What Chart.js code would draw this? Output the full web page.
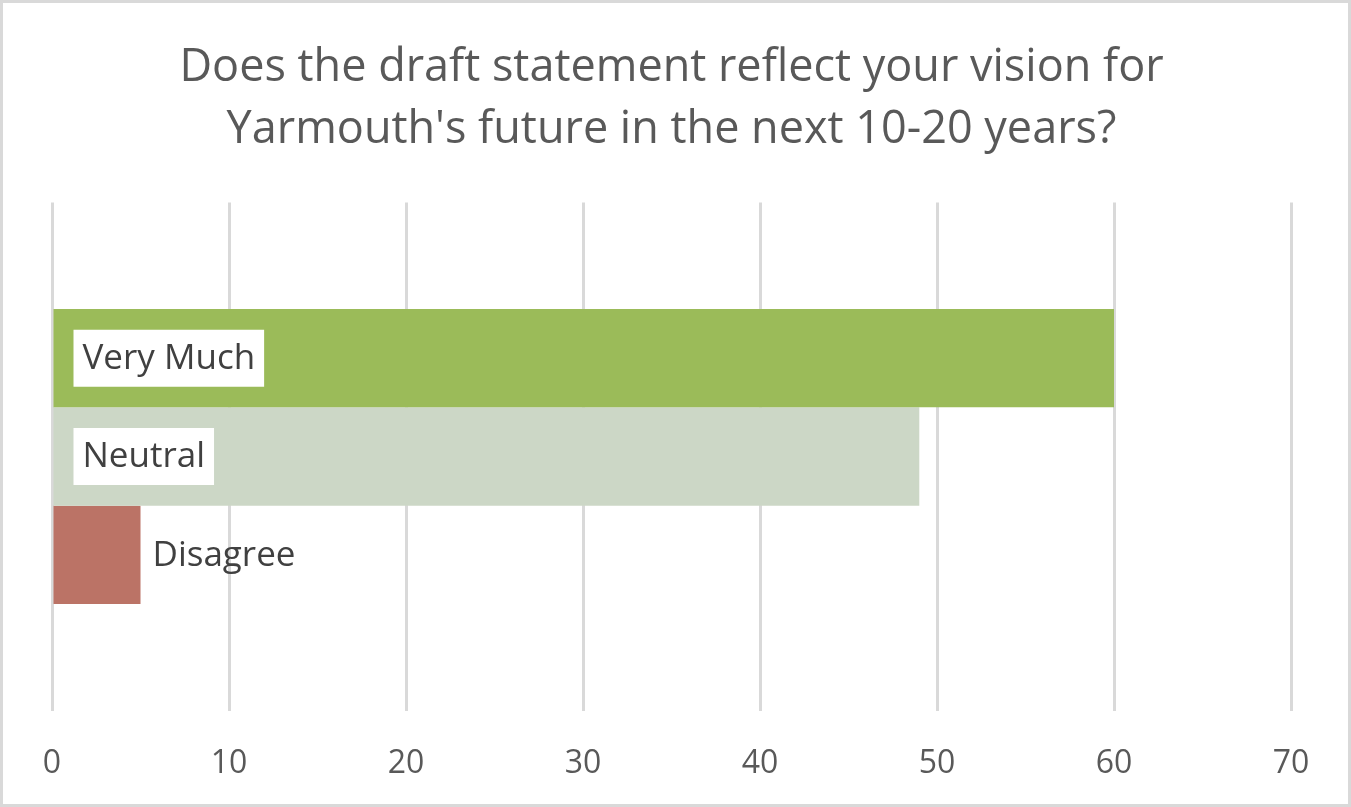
<!DOCTYPE html>
<html>
<head>
<meta charset="utf-8">
<script src="https://cdn.jsdelivr.net/npm/chart.js@4"></script>
<style>
  html, body { margin: 0; padding: 0; background: #fff; }
  #wrap { width: 1351px; height: 807px; position: relative; }
</style>
</head>
<body>
<div id="wrap"><canvas id="chart"></canvas></div>
<script>
const titleLines = ['Does the draft statement reflect your vision for', "Yarmouth's future in the next 10-20 years?"];
const seriesNames = ['Very Much', 'Neutral', 'Disagree'];
const seriesValues = [60, 49, 5];
const seriesColors = ['#9BBB59', '#CCD7C6', '#BB7366'];
const xMin = 0, xMax = 70, xStep = 10;

const FONT = "'Open Sans', sans-serif";

// chart frame border
const framePlugin = {
  id: 'frame',
  afterDraw(chart) {
    const ctx = chart.ctx;
    ctx.save();
    ctx.strokeStyle = '#d9d9d9';
    ctx.lineWidth = 3;
    ctx.strokeRect(1.5, 1.5, chart.width - 3, chart.height - 3);
    ctx.restore();
  }
};

// series name labels: inside base with white box, or outside end when the bar is short
const nameLabels = {
  id: 'nameLabels',
  afterDatasetsDraw(chart) {
    const ctx = chart.ctx;
    ctx.save();
    ctx.font = '35px ' + FONT;
    ctx.textBaseline = 'middle';
    chart.data.datasets.forEach((ds, i) => {
      const bar = chart.getDatasetMeta(i).data[0];
      const txt = ds.label;
      const w = ctx.measureText(txt).width;
      const barW = bar.x - bar.base;
      if (barW > w + 60) {
        const bx = bar.base + 20, bh = 57;
        ctx.fillStyle = '#fff';
        ctx.fillRect(bx, bar.y - bh / 2, w + 18, bh);
        ctx.fillStyle = '#404040';
        ctx.fillText(txt, bx + 9, bar.y + 1);
      } else {
        ctx.fillStyle = '#404040';
        ctx.fillText(txt, bar.x + 12, bar.y + 1);
      }
    });
    ctx.restore();
  }
};

new Chart(document.getElementById('chart'), {
  type: 'bar',
  data: {
    labels: [''],
    datasets: seriesNames.map((n, i) => ({
      label: n,
      data: [seriesValues[i]],
      backgroundColor: seriesColors[i],
      borderWidth: 0,
      categoryPercentage: 0.58,
      barPercentage: 1
    }))
  },
  options: {
    indexAxis: 'y',
    responsive: true,
    maintainAspectRatio: false,
    animation: false,
    layout: { padding: { left: 52, right: 60, top: 0, bottom: -10 } },
    plugins: {
      legend: { display: false },
      tooltip: { enabled: false },
      title: {
        display: true,
        text: titleLines,
        color: '#595959',
        font: { family: FONT, size: 45, weight: 'normal', lineHeight: 1.36 },
        padding: { top: 38, bottom: 42 }
      }
    },
    scales: {
      y: { display: false },
      x: {
        min: xMin, max: xMax,
        border: { display: false },
        grid: { color: '#d9d9d9', lineWidth: 3, drawTicks: false },
        ticks: {
          stepSize: xStep,
          color: '#595959',
          padding: 34,
          font: { family: FONT, size: 32 }
        }
      }
    }
  },
  plugins: [framePlugin, nameLabels]
});
</script>
</body>
</html>
